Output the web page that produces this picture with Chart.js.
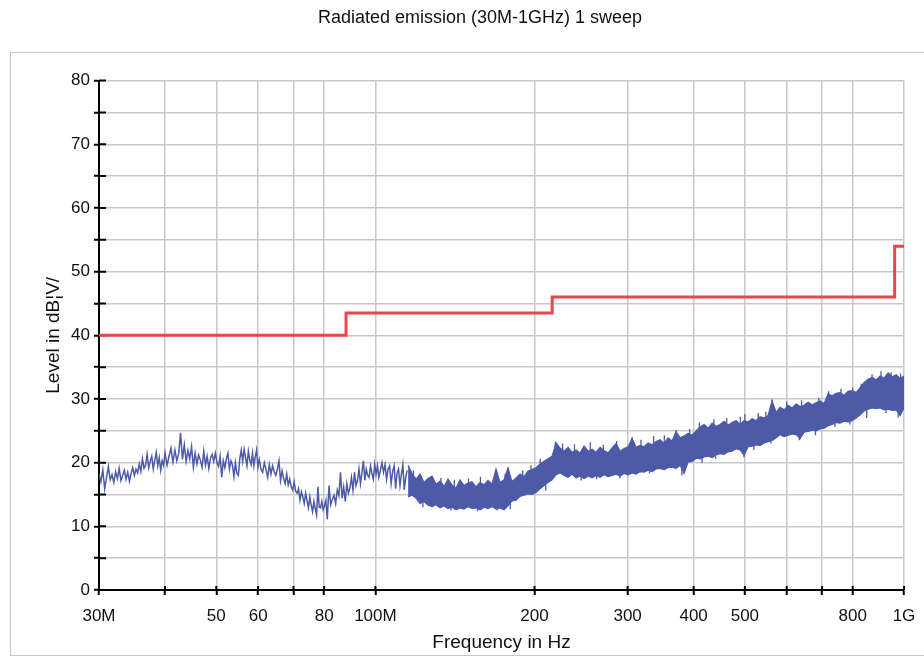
<!DOCTYPE html>
<html>
<head>
<meta charset="utf-8">
<script src="https://cdn.jsdelivr.net/npm/chart.js@4.4.1/dist/chart.umd.min.js"></script>
<style>
  html, body { margin: 0; padding: 0; background: #fff; }
  #wrap { position: relative; width: 924px; height: 656px; overflow: hidden; }
  #frame { position: absolute; left: 10px; top: 52px; width: 940px; height: 602px; border: 1px solid #c8c8c8; }
  canvas { position: absolute; left: 0; top: 0; }
</style>
</head>
<body>
<div id="wrap">
  <div id="frame"></div>
  <canvas id="emissionChart" width="924" height="656"></canvas>
</div>
<script>
// Limit line (MHz / dB)
const limitFreq = [30, 88, 216, 960, 1000];
const limitLevel = [40, 43.5, 46, 54, 54];

// Sweep 30M - 115M
const sweepFreq = [
  30.0, 30.25, 30.5, 30.75, 31.0, 31.25, 31.5, 31.75, 32.0, 32.25, 32.5, 32.75, 33.0, 33.25, 33.5, 33.75,
  34.0, 34.25, 34.5, 34.75, 35.0, 35.25, 35.5, 35.75, 36.0, 36.25, 36.5, 36.75, 37.0, 37.25, 37.5, 37.75,
  38.0, 38.25, 38.5, 38.75, 39.0, 39.25, 39.5, 39.75,
  40.0, 40.35, 40.7, 41.05, 41.4, 41.75, 42.1, 42.45, 42.8, 43.15, 43.5, 43.85, 44.2, 44.55, 44.9, 45.25,
  45.6, 45.95, 46.3, 46.65, 47.0, 47.35, 47.7, 48.05, 48.4, 48.75, 49.1, 49.45, 49.8, 50.15, 50.5, 50.85,
  51.2, 51.55, 51.9, 52.25, 52.6, 52.95, 53.3, 53.65, 54.0, 54.35, 54.7, 55.05, 55.4, 55.75, 56.1, 56.45,
  56.8, 57.15, 57.5, 57.85, 58.2, 58.55, 58.9, 59.25, 59.6, 59.95,
  60.3, 60.75, 61.2, 61.65, 62.1, 62.55, 63.0, 63.45, 63.9, 64.35, 64.8, 65.25, 65.7, 66.15, 66.6, 67.05,
  67.5, 67.95, 68.4, 68.85, 69.3, 69.75, 70.2, 70.65, 71.1, 71.55, 72.0, 72.45, 72.9, 73.35, 73.8, 74.25,
  74.7, 75.15, 75.6, 76.05, 76.5, 76.95, 77.4, 77.85, 78.3, 78.75, 79.2, 79.65, 80.1,
  80.6, 81.1, 81.7, 82.3, 82.9, 83.5, 84.1, 84.7, 85.3, 85.9, 86.5, 87.1, 87.7, 88.3, 88.9, 89.5,
  90.1, 90.7, 91.3, 91.9, 92.5, 93.1, 93.7, 94.3, 94.9, 95.5, 96.1, 96.7, 97.3, 97.9, 98.5, 99.1,
  99.7, 100.3, 100.9, 101.5, 102.2, 102.9, 103.6, 104.3, 105.0, 105.7, 106.4, 107.1, 107.8, 108.5, 109.2, 109.9,
  110.6, 111.3, 112.0, 112.7, 113.4, 114.1, 114.8
];
const sweepLevel = [
  18.2, 17.0, 18.9, 15.9, 17.6, 19.4, 17.3, 18.1, 16.9, 18.6, 17.5, 19.1, 17.2, 18.0, 18.8, 17.4,
  18.5, 17.1, 18.3, 19.2, 18.0, 19.0, 18.4, 19.8, 18.6, 20.6, 19.1, 19.6, 21.3, 19.2, 20.2, 21.0,
  19.0, 20.4, 21.6, 19.5, 20.8, 18.8, 20.3, 19.6,
  21.5, 19.6, 21.0, 22.3, 20.1, 22.0, 20.3, 21.4, 24.7, 20.5, 22.8, 20.2, 21.9, 20.6, 22.5, 19.3,
  21.5, 19.8, 21.2, 20.4, 19.3, 21.8, 19.6, 21.0, 19.1, 20.7, 21.3, 20.2, 21.5, 20.0, 19.4, 21.0,
  17.7, 20.3, 19.2, 20.6, 21.5, 19.0, 20.3, 19.6, 17.8, 20.0, 18.3, 18.0, 20.6, 22.0, 20.2, 22.1,
  20.8, 19.5, 21.8, 20.4, 19.7, 21.5, 19.5, 20.9, 22.0, 19.3,
  20.5, 19.0, 18.5, 20.0, 18.9, 17.7, 19.7, 18.2, 19.5, 18.6, 18.0, 19.0, 20.3, 17.2, 18.7, 17.5,
  16.7, 18.2, 16.5, 17.4, 16.2, 15.7, 17.0, 15.5, 15.2, 15.9, 14.1, 15.4, 14.6, 13.6, 15.2, 14.0,
  12.9, 14.6, 13.3, 12.3, 13.9, 12.8, 11.8, 16.2, 13.0, 12.9, 13.9, 12.6, 13.2,
  14.1, 11.1, 16.4, 13.4, 14.2, 14.9, 13.6, 15.7, 14.8, 18.5, 14.4, 16.2, 13.9, 16.7, 15.2, 16.0,
  17.7, 15.7, 18.5, 16.4, 17.2, 19.0, 16.7, 18.4, 20.3, 17.2, 19.0, 18.0, 17.7, 19.5, 18.3, 17.4,
  19.7, 18.2, 19.5, 17.7, 18.8, 20.0, 18.5, 19.7, 17.4, 19.0, 19.5, 16.7, 18.6, 19.5, 15.9, 18.4,
  19.0, 16.4, 18.2, 19.7, 15.7, 17.6, 18.8
];

// Dense part of the sweep 115M - 1G, upper and lower edge of the band
const bandFreq = [
  115.3, 117.3, 119.4, 121.5, 123.6, 125.8, 128.0, 130.2, 132.5, 134.9, 137.2, 139.6, 142.1, 144.6, 147.1, 149.7,
  152.3, 155.0, 157.8, 160.5, 163.3, 166.2, 169.1, 172.1, 175.1, 178.2, 181.3, 184.5, 187.8, 191.1, 194.4, 197.8,
  201.3, 204.9, 208.5, 212.1, 215.9, 219.7, 223.5, 227.5, 231.5, 235.5, 239.7, 243.9, 248.2, 252.5, 257.0, 261.5,
  266.1, 270.8, 275.5, 280.4, 285.3, 290.3, 295.4, 300.6, 305.9, 311.3, 316.7, 322.3, 328.0, 333.7, 339.6, 345.6,
  351.6, 357.8, 364.1, 370.5, 377.0, 383.7, 390.4, 397.3, 404.3, 411.4, 418.6, 426.0, 433.5, 441.1, 448.8, 456.7,
  464.8, 472.9, 481.3, 489.7, 498.3, 507.1, 516.0, 525.0, 534.3, 543.7, 553.2, 563.0, 572.9, 582.9, 593.2, 603.6,
  614.2, 625.0, 636.0, 647.2, 658.6, 670.2, 681.9, 693.9, 706.1, 718.5, 731.2, 744.0, 757.1, 770.4, 784.0, 797.8,
  811.8, 826.1, 840.6, 855.4, 870.4, 885.7, 901.3, 917.2, 933.3, 949.7, 966.4, 983.4, 1000
];
const bandHigh = [
  19.6, 18.3, 17.4, 18.2, 16.9, 17.5, 17.9, 16.6, 17.1, 16.3, 17.4, 16.5, 16.0, 17.3, 16.4, 16.8,
  17.0, 16.2, 16.9, 16.5, 17.2, 16.6, 19.0, 16.9, 17.3, 19.2, 17.0, 17.6, 18.2, 17.8, 18.7, 18.9,
  19.2, 19.8, 20.2, 20.6, 21.0, 23.1, 22.3, 21.8, 22.4, 21.6, 22.0, 21.5, 22.6, 21.8, 22.1, 21.6,
  22.4, 21.9, 21.5, 22.3, 23.0, 21.8, 22.2, 22.5, 23.8, 22.4, 22.7, 22.5, 23.1, 22.8, 23.3, 23.6,
  23.0, 23.9, 23.4, 24.9, 23.9, 24.2, 24.6, 24.3, 25.0, 25.6, 26.0, 25.4, 26.2, 25.7, 26.0, 26.5,
  25.9, 26.3, 26.6, 26.0, 26.6, 26.4, 26.9, 26.6, 27.2, 27.0, 27.4, 29.7, 27.9, 28.7, 28.3, 29.0,
  28.6, 29.2, 28.8, 29.0, 29.5, 29.1, 29.4, 29.7, 29.3, 30.8, 30.5, 30.9, 31.0, 30.6, 31.2, 31.3,
  31.0, 31.8, 32.6, 33.1, 33.4, 33.0, 33.6, 33.3, 34.1, 33.5, 33.8, 33.2, 33.6
];
const bandLow = [
  14.6, 14.9, 14.4, 13.6, 13.9, 13.3, 13.1, 13.4, 12.9, 13.2, 12.8, 13.0, 12.6, 12.9, 12.7, 13.1,
  12.8, 12.9, 12.6, 13.0, 12.8, 13.1, 12.7, 12.9, 12.6, 13.2, 14.0, 14.1, 14.7, 14.9, 15.1, 15.0,
  15.3, 15.9, 16.4, 16.9, 17.3, 18.1, 18.4, 18.0, 17.7, 18.2, 17.6, 17.9, 17.5, 17.9, 17.6, 18.0,
  17.7, 18.1, 17.8, 18.0, 18.2, 17.9, 18.3, 18.1, 18.4, 18.2, 18.6, 18.5, 18.8, 18.6, 19.0, 19.1,
  18.9, 19.2, 19.3, 19.1, 19.6, 18.3, 20.1, 20.2, 20.7, 20.6, 20.9, 21.0, 20.8, 21.2, 21.4, 21.3,
  21.7, 21.8, 22.2, 22.0, 21.2, 22.5, 22.6, 22.8, 22.7, 23.1, 23.3, 23.5, 23.9, 24.4, 24.1, 24.3,
  24.5, 24.4, 23.8, 24.8, 24.9, 25.1, 25.0, 25.3, 25.4, 25.8, 26.0, 26.3, 26.2, 26.5, 26.4, 26.6,
  27.0, 27.5, 28.1, 28.4, 28.6, 28.5, 28.6, 28.3, 28.4, 28.2, 28.3, 27.4, 28.6
];

// Single spikes sticking out of the band (bottom and top of each spike)
const spikeFreq = [
  118, 123, 126, 133, 139, 141, 150, 156, 158, 170, 176, 180, 190, 197, 205, 210,
  219, 226, 238, 245, 255, 262, 270, 286, 290, 306, 318, 330, 336, 352, 371, 380,
  393, 410, 415, 437, 440, 462, 490, 498, 500, 520, 530, 548, 560, 563, 600, 634,
  640, 680, 690, 720, 740, 760, 790, 800, 830, 850, 870, 905, 925, 945, 975, 985
];
const spikeLow = [
  16.0, 13.0, 15.0, 15.0, 12.5, 15.0, 15.0, 12.4, 15.0, 12.5, 15.0, 12.7, 16.0, 17.0, 18.0, 15.6,
  20.0, 20.0, 20.0, 17.2, 20.0, 17.4, 20.0, 20.0, 17.5, 21.0, 21.0, 18.3, 21.0, 21.0, 22.0, 18.0,
  22.0, 23.0, 20.0, 23.0, 20.6, 24.0, 24.0, 20.8, 24.0, 22.0, 25.0, 25.0, 23.0, 26.0, 26.0, 23.5,
  27.0, 24.3, 27.0, 28.0, 25.6, 29.0, 26.0, 29.0, 29.0, 27.0, 31.0, 31.0, 27.8, 31.0, 27.1, 31.0
];
const spikeHigh = [
  18.8, 15.0, 17.3, 17.6, 14.5, 17.3, 17.5, 14.5, 17.8, 14.5, 18.2, 15.0, 18.8, 19.6, 20.6, 18.0,
  23.3, 23.0, 22.9, 19.5, 23.2, 19.5, 22.8, 23.4, 19.5, 24.0, 23.6, 20.5, 24.2, 24.3, 25.1, 21.0,
  25.3, 26.3, 22.5, 26.8, 23.0, 27.0, 27.2, 23.0, 27.6, 24.0, 27.8, 28.0, 25.0, 29.9, 29.6, 26.0,
  29.8, 27.0, 30.2, 31.2, 28.0, 31.6, 28.5, 31.8, 32.4, 29.5, 33.9, 34.4, 30.5, 34.2, 30.0, 34.0
];

// Axis ticks
const xTickValues = [30, 40, 50, 60, 70, 80, 100, 200, 300, 400, 500, 600, 700, 800, 1000];
const xTickLabels = ['30M', '', '50', '60', '', '80', '100M', '200', '300', '400', '500', '', '', '800', '1G'];

const blue = '#4c5aa8';
const red = '#e8464a';
const fontFamily = 'Liberation Sans, Arial, sans-serif';

const pts = (xs, ys) => xs.map((x, i) => ({ x: x, y: ys[i] }));

// each spike as its own short vertical segment, separated by gaps
const spikePts = () => {
  const out = [];
  spikeFreq.forEach((f, i) => {
    out.push({ x: f, y: spikeLow[i] }, { x: f, y: spikeHigh[i] }, { x: f, y: null });
  });
  return out;
};

// tick marks reaching into the plot
const innerTicks = {
  id: 'innerTicks',
  beforeDatasetsDraw(chart) {
    const { ctx, chartArea, scales } = chart;
    ctx.save();
    ctx.strokeStyle = '#000';
    ctx.lineWidth = 2;
    ctx.beginPath();
    scales.y.ticks.forEach((t, i) => {
      const py = scales.y.getPixelForTick(i);
      ctx.moveTo(chartArea.left, py);
      ctx.lineTo(chartArea.left + 7, py);
    });
    scales.x.ticks.forEach((t, i) => {
      const px = scales.x.getPixelForTick(i);
      ctx.moveTo(px, chartArea.bottom);
      ctx.lineTo(px, chartArea.bottom - 4);
    });
    ctx.stroke();
    ctx.restore();
  }
};

const emissionChart = () => {
  const canvas = document.querySelector('#emissionChart');

  new Chart(canvas, {
    type: 'line',
    data: {
      datasets: [
        {
          label: 'band low',
          data: pts(bandFreq, bandLow),
          borderColor: blue,
          borderWidth: 1.2,
          pointRadius: 0,
          fill: false
        },
        {
          label: 'band high',
          data: pts(bandFreq, bandHigh),
          borderColor: blue,
          backgroundColor: blue,
          borderWidth: 1.2,
          pointRadius: 0,
          fill: '-1'
        },
        {
          label: 'spikes',
          data: spikePts(),
          borderColor: blue,
          borderWidth: 1.3,
          pointRadius: 0,
          spanGaps: false,
          fill: false
        },
        {
          label: 'sweep',
          data: pts(sweepFreq, sweepLevel),
          borderColor: blue,
          borderWidth: 1.5,
          pointRadius: 0,
          fill: false
        },
        {
          label: 'limit',
          data: pts(limitFreq, limitLevel),
          borderColor: red,
          borderWidth: 3,
          pointRadius: 0,
          stepped: 'before',
          fill: false
        }
      ]
    },
    options: {
      responsive: false,
      animation: false,
      layout: { padding: { left: 56, right: 20, top: 0, bottom: 0 } },
      plugins: {
        legend: { display: false },
        tooltip: { enabled: false },
        title: {
          display: true,
          text: 'Radiated emission (30M-1GHz) 1 sweep',
          color: '#111',
          font: { family: fontFamily, size: 18, weight: 'normal' },
          padding: { top: 7, bottom: 52 }
        }
      },
      scales: {
        x: {
          type: 'logarithmic',
          min: 30,
          max: 1000,
          afterBuildTicks: (scale) => {
            scale.ticks = xTickValues.map(v => ({ value: v }));
          },
          afterFit: (scale) => {
            scale.height = 66;
            scale.paddingLeft = 0;
            scale.paddingRight = 0;
          },
          ticks: {
            autoSkip: false,
            maxRotation: 0,
            padding: 11,
            color: '#111',
            font: { family: fontFamily, size: 17 },
            callback: (value, index) => xTickLabels[index]
          },
          grid: { color: '#c8c8c8', lineWidth: 1.5, tickColor: '#000', tickWidth: 2, tickLength: 5 },
          border: { color: '#000', width: 2 },
          title: {
            display: true,
            text: 'Frequency in Hz',
            color: '#111',
            font: { family: fontFamily, size: 19 },
            padding: { top: 0, bottom: 2 }
          }
        },
        y: {
          min: 0,
          max: 80,
          afterFit: (scale) => { scale.width = 43; },
          ticks: {
            stepSize: 5,
            padding: 4,
            color: '#111',
            font: { family: fontFamily, size: 17 },
            callback: (value) => (value % 10 === 0 ? value : '')
          },
          grid: { color: '#c8c8c8', lineWidth: 1.5, tickColor: '#000', tickWidth: 2, tickLength: 5 },
          border: { color: '#000', width: 2 },
          title: {
            display: true,
            text: 'Level in dB¦V/',
            color: '#111',
            font: { family: fontFamily, size: 19 },
            padding: { top: -14, bottom: 0 }
          }
        }
      }
    },
    plugins: [innerTicks]
  });
};

emissionChart();
</script>
</body>
</html>
